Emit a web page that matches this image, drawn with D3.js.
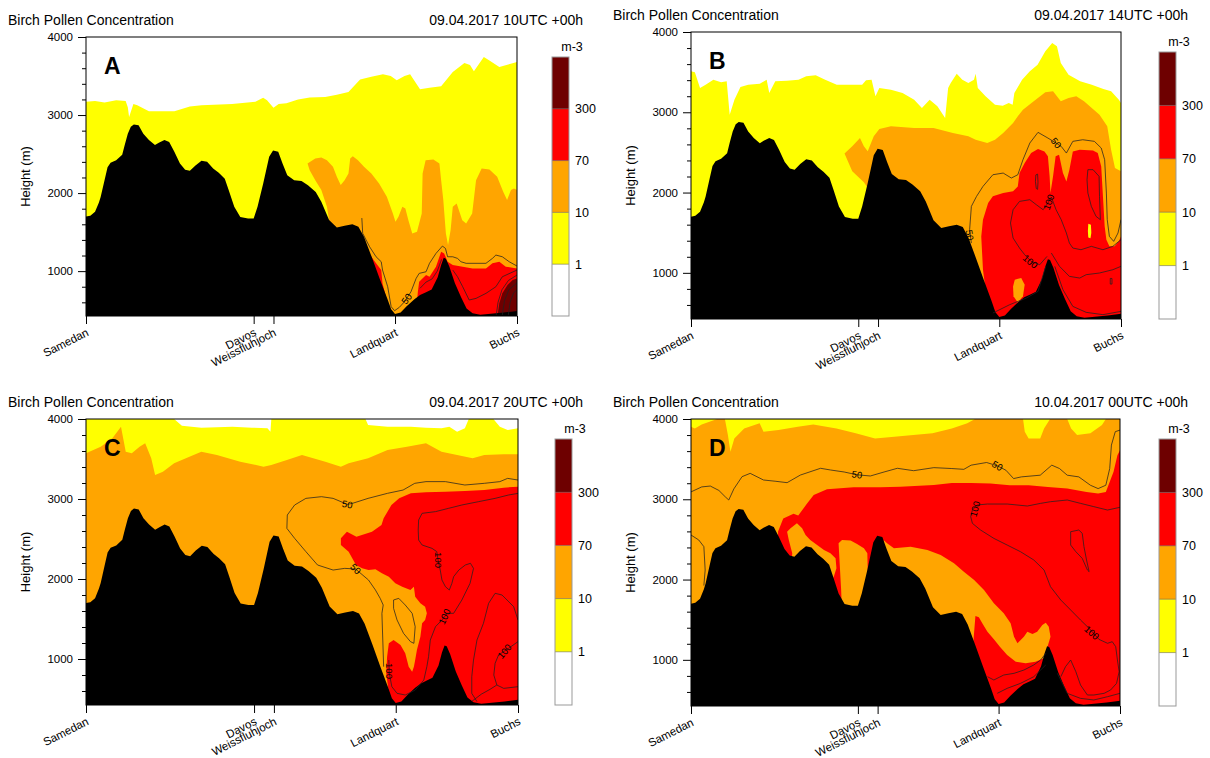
<!DOCTYPE html>
<html><head><meta charset="utf-8">
<script src="https://cdn.jsdelivr.net/npm/d3@7"></script>
<style>
body{margin:0;background:#fff}
svg{display:block}
text{font-family:"Liberation Sans",Arial,Helvetica,sans-serif;fill:#000}
</style>
</head><body>
<svg id="chart" width="1210" height="758"></svg>
<script>
// ---------- shared data ----------
const titleText = "Birch Pollen Concentration";
const panelLetters = ["A","B","C","D"];
const panelTimes = ["09.04.2017 10UTC +00h","09.04.2017 14UTC +00h","09.04.2017 20UTC +00h","10.04.2017 00UTC +00h"];
const stations = ["Samedan","Davos","Weissfluhjoch","Landquart","Buchs"];
const stationDist = [0, 38.9, 43.5, 71.7, 100];
const yTicks = [1000, 2000, 3000, 4000];
const yMinorStep = 200;
const heightDomain = [425, 4000];
const levelLabels = ["1","10","70","300"];
const levelColors = ["#ffffff","#ffff00","#ffa500","#ff0000","#6e0000"];
const unitLabel = "m-3";

// terrain profile [distance %, height m]
const terrain = [[0,1700],[1.0,1710],[2.1,1760],[3.0,1880],[3.4,1950],[4.3,2165],[5.0,2330],[5.7,2390],[7.0,2420],[8.4,2490],[9.0,2620],[9.7,2760],[10.4,2850],[11.1,2880],[12.2,2870],[13.3,2760],[14.6,2680],[16.0,2615],[16.9,2645],[18.2,2680],[19.3,2655],[20.5,2530],[21.8,2380],[23.0,2300],[24.1,2285],[25.4,2355],[26.8,2415],[28.1,2400],[29.5,2315],[30.8,2260],[32.2,2185],[33.1,2040],[34.4,1825],[35.8,1695],[37.6,1675],[38.9,1675],[39.8,1825],[41.1,2120],[42.5,2465],[43.4,2545],[44.6,2530],[45.6,2380],[46.7,2230],[48.3,2165],[50.0,2155],[51.5,2100],[53.3,2015],[54.6,1890],[56.4,1655],[58.2,1560],[60.0,1580],[61.8,1600],[63.2,1570],[64.5,1440],[66.3,1180],[68.1,910],[69.9,650],[70.8,510],[71.7,450],[73.0,470],[74.4,550],[76.2,640],[77.5,695],[78.9,730],[80.2,765],[81.6,920],[82.4,1080],[83.0,1170],[83.5,1160],[84.3,1060],[85.6,845],[87.0,670],[88.3,520],[89.7,460],[91.5,440],[93.3,450],[95.1,460],[96.9,470],[98.7,480],[100,490]];

// ---------- panel A ----------
const aYellowTop = [[0,3170],[2.1,3180],[4.3,3160],[7.0,3190],[9.2,3180],[9.7,3100],[10.0,2976],[11.0,3140],[11.9,3125],[14.6,3050],[20.5,3050],[24.1,3110],[26.8,3125],[33.9,3140],[39.3,3170],[41.1,3220],[42.0,3190],[43.5,3095],[44.7,3140],[46.5,3150],[49.2,3200],[51.9,3225],[55.5,3230],[58.2,3260],[60.9,3296],[62.3,3380],[63.6,3454],[66.2,3490],[68.9,3522],[70.7,3500],[72.1,3445],[73.9,3500],[75.2,3522],[77.5,3330],[79.7,3350],[82.4,3369],[85.1,3552],[87.8,3667],[89.1,3640],[90.0,3561],[92.3,3744],[93.6,3700],[95.9,3616],[100,3680]];
const aOrange = [[51.4,2380],[53.2,2443],[54.6,2456],[55.9,2420],[57.3,2336],[58.2,2208],[59.1,2102],[60.0,2166],[60.9,2251],[61.3,2443],[61.9,2473],[63.1,2422],[64.5,2336],[66.2,2251],[68.0,2123],[69.8,1952],[71.2,1739],[71.8,1632],[72.5,1696],[73.4,1824],[74.1,1803],[74.8,1653],[75.7,1483],[76.8,1504],[77.9,1739],[78.1,2251],[78.8,2422],[80.6,2430],[82.0,2379],[82.4,2166],[82.9,1910],[83.5,1483],[84.0,1334],[84.6,1526],[85.1,1824],[86.0,1867],[87.3,1653],[88.2,1611],[89.6,1739],[90.5,2166],[91.8,2315],[93.6,2302],[95.4,2208],[96.8,2016],[97.7,1910],[98.6,2038],[99.3,2059],[100,2038],[100,425],[56.4,425],[56.4,1653],[55.9,1824],[54.6,2038],[53.2,2166],[51.9,2294]];
const aRedWest = [[66.0,1200],[67.3,1100],[68.5,1014],[68.8,843],[69.6,672],[70.4,523],[71.2,440],[71.2,425],[65,425]];
const aRedEast = [[77.0,736],[77.3,864],[78.9,950],[79.7,928],[81.2,1056],[82.4,1248],[83.1,1227],[83.9,1120],[85.1,1078],[87.4,1056],[89.7,1035],[92.8,1035],[94.3,1100],[95.9,1120],[97.4,1056],[100,1035],[100,425],[76.5,425]];
const aDarkRed = [[95.5,438],[95.9,588],[96.6,716],[97.8,822],[99.0,886],[100,907],[100,425],[95.5,425]];
const a50 = [[64.0,1680],[64.2,1484],[65.8,1312],[67.3,1184],[68.5,1120],[68.8,1014],[70.0,800],[70.8,544],[71.6,493],[72.7,536],[73.9,608],[75.4,736],[76.6,907],[77.3,971],[78.9,992],[79.7,1100],[81.2,1227],[82.7,1321],[83.4,1291],[83.9,1184],[85.1,1184],[86.2,1163],[87.0,1120],[88.2,1100],[92.8,1100],[94.3,1163],[95.1,1206],[96.6,1184],[98.2,1120],[100,1065]];
const a100 = [[85.1,1014],[86.2,928],[87.4,800],[88.9,630],[90.5,651],[92.8,715],[95.1,800],[96.6,928],[100,1014]];
const a100b = [[77.5,780],[78.9,860],[80.3,900],[81.5,1000],[82.5,1150]];
const aInner1 = [[95.2,440],[95.6,600],[96.5,760],[98,880],[100,950]];
const aInner2 = [[96.6,440],[97.1,620],[98.1,760],[100,850]];
const aInner3 = [[98,440],[98.4,600],[99.2,720],[100,760]];
const aLabels = [[74.4,646,-55,"50"]];

// ---------- panel B ----------
const bYellowTop = [[0,3510],[0.9,3498],[2.1,3302],[3.4,3344],[5.2,3406],[7.0,3373],[8.3,3386],[9.0,2970],[10.1,3157],[11.5,3315],[13.3,3344],[16.0,3356],[17.6,3406],[18.2,3240],[19.6,3386],[22.3,3394],[25.0,3406],[26.8,3448],[29.0,3460],[31.2,3406],[33.9,3344],[37.5,3344],[39.8,3344],[40.7,3398],[42.0,3406],[42.9,3199],[43.8,3302],[46.5,3282],[49.2,3240],[51.9,3157],[53.7,3053],[55.5,3157],[57.3,3074],[59.1,2929],[59.8,3302],[60.4,3365],[61.8,3481],[63.1,3406],[64.5,3365],[65.8,3406],[66.2,3481],[66.7,3302],[68.5,3199],[70.7,3095],[72.5,3082],[73.9,3116],[74.8,3095],[75.2,3240],[77.0,3406],[78.8,3510],[80.6,3593],[82.4,3759],[84.0,3863],[85.1,3821],[86.0,3614],[87.8,3469],[90.5,3386],[93.2,3344],[95.9,3290],[97.7,3261],[99.5,3157],[100,3116]];
const bOrange = [[35.7,2485],[37.5,2576],[39.3,2680],[40.2,2576],[41.1,2514],[42.5,2700],[43.8,2792],[46.5,2825],[51.9,2804],[56.4,2804],[60.9,2742],[64.5,2700],[66.2,2659],[68.9,2617],[70.7,2659],[72.6,2741],[74.9,2866],[76.0,2949],[77.2,3032],[79.7,3136],[82.4,3248],[84.2,3261],[86.0,3136],[87.8,3178],[89.6,3199],[91.4,3136],[93.2,3053],[95.0,2970],[96.8,2825],[97.7,2534],[98.6,2306],[100,2264],[100,425],[41.2,425],[41.2,2050],[40.2,2127],[37.5,2264]];
const bRed = [[69.9,425],[69.9,541],[68.7,707],[67.9,1039],[67.5,1454],[67.9,1662],[69.1,1869],[70.2,1953],[72.6,1994],[74.9,2015],[76.0,2077],[76.4,2243],[77.6,2368],[79.1,2492],[80.7,2542],[82.2,2513],[83.0,2451],[83.4,2202],[83.6,1994],[84.2,2202],[84.8,2451],[85.6,2471],[86.5,2243],[87.3,2139],[88.0,2285],[88.8,2513],[90.4,2534],[93.5,2525],[94.6,2492],[95.4,2326],[95.8,1953],[96.2,1579],[96.6,1413],[97.3,1330],[98.5,1330],[99.5,1392],[100,1454],[100,425]];
const bOrangeBlob = [[75.3,915],[76.8,935],[77.6,852],[77.2,707],[76.0,632],[75.0,707],[74.9,831]];
const bYellowBlob = [[92.4,1610],[93.0,1600],[93.1,1500],[92.9,1430],[92.4,1440],[92.3,1520]];
const b50 = [[65.2,1371],[64.8,1537],[65.2,1828],[66.4,1952],[67.9,2077],[70.2,2222],[72.6,2243],[74.5,2181],[76.0,2222],[77.2,2409],[78.8,2617],[80.7,2750],[83.0,2679],[84.9,2617],[86.1,2575],[87.3,2492],[88.8,2638],[91.1,2658],[93.8,2638],[95.4,2555],[96.2,2409],[96.6,1994],[96.8,1662],[97.3,1454],[98.3,1392],[99.3,1496],[100,1662]];
const b100 = [[82.8,1205],[81.1,1101],[79.1,1143],[77.6,1226],[76.4,1309],[74.9,1434],[74.3,1620],[74.9,1786],[76.4,1890],[78.8,1911],[80.3,1849],[81.9,1786],[83.0,1869],[83.8,1944],[84.9,1786],[86.1,1662],[87.3,1496],[88.0,1371],[88.8,1309],[90.7,1288],[93.1,1330],[95.8,1288],[98.1,1330],[100,1413]];
const b100Low = [[83.8,1247],[85.7,1081],[88.0,956],[90.4,935],[91.9,977],[95.0,998],[98.1,1039],[100,1081]];
const bHugWest = [[70.2,499],[74.1,603],[78.0,686],[80.7,769],[82.5,1081]];
const bHugEast = [[84.6,1081],[86.5,790],[88.8,582],[91.9,508],[95.8,479],[100,520]];
const bLoop1 = [[92.3,2285],[93.5,2285],[94.9,2202],[95.0,1953],[95.2,1662],[94.2,1703],[93.1,1828],[92.3,1994],[92.1,2160]];
const bLoop2 = [[80.2,2220],[80.6,2230],[80.7,2130],[80.6,2040],[80.3,2050],[80.1,2140]];
const bLoop3 = [[97.5,930],[97.9,930],[97.9,860],[97.5,860]];
const bLabels = [[64.8,1470,80,"50"],[84.9,2617,50,"50"],[83.2,1880,-70,"100"],[78.9,1140,40,"100"]];

// ---------- panel C ----------
const cYellowTop = [[0,4000],[20.4,4000],[22.2,3917],[26.7,3892],[33.9,3904],[38.4,3892],[42.0,3883],[42.7,3842],[42.9,4000],[64.7,4000],[65.3,3925],[69.8,3904],[75.2,3904],[78.7,3892],[82.3,3883],[84.1,3904],[85.9,3842],[87.7,3883],[88.6,4000],[94.3,4000],[95.8,3904],[97.6,3862],[100,3883]];
const cOrangeTop = [[0,3571],[3.4,3654],[6.1,3758],[8.1,3904],[9.2,3592],[10.6,3571],[12.4,3654],[13.7,3696],[15.1,3508],[16.0,3300],[17.8,3342],[20.4,3446],[24.9,3550],[26.7,3592],[30.3,3550],[35.7,3467],[41.1,3404],[42.9,3425],[46.5,3487],[50.0,3550],[55.4,3467],[59.0,3404],[60.8,3446],[65.3,3508],[69.8,3612],[74.3,3654],[78.7,3696],[82.3,3592],[85.9,3550],[89.5,3508],[92.2,3550],[96.7,3558],[100,3558]];
const cRed = [[59.0,2508],[60.4,2592],[62.6,2529],[66.2,2592],[68.4,2675],[68.9,2758],[70.7,2925],[72.5,3008],[75.2,3071],[78.7,3083],[83.2,3092],[87.7,3100],[92.2,3112],[96.7,3142],[100,3154],[100,425],[71.2,425],[71.2,446],[70.1,571],[69.5,821],[69.7,1029],[70.1,1196],[71.2,1237],[72.8,1175],[73.9,1071],[74.7,904],[75.5,842],[75.9,904],[76.2,987],[76.6,1112],[77.4,1279],[77.8,1446],[78.5,1488],[78.9,1571],[78.5,1654],[77.4,1696],[76.2,1779],[75.9,1904],[75.1,1862],[73.2,1904],[71.6,1946],[70.1,2029],[68.5,2071],[67.0,2121],[65.4,2112],[63.9,2133],[62.5,2175],[60.8,2342],[59.0,2425]];
const c50 = [[100,3237],[97.6,3258],[95.8,3217],[92.2,3196],[87.7,3175],[83.2,3217],[78.7,3217],[76.1,3196],[73.4,3112],[69.8,3071],[65.3,3008],[61.7,2946],[60.5,2933],[57.2,3008],[54.5,3029],[50.9,3008],[48.3,2925],[46.6,2800],[46.5,2633],[48.3,2508],[50.9,2342],[53.6,2175],[57.2,2112],[59.9,2133],[62.4,2125],[65.4,1987],[67.0,1862],[68.1,1758],[68.8,1675],[68.5,1571],[68.7,1237],[68.9,904]];
const c50Loop = [[71.2,1738],[72.4,1758],[73.9,1675],[75.5,1571],[76.2,1404],[75.9,1196],[75.1,1217],[73.5,1321],[72.0,1488],[71.2,1633]];
const c100 = [[100,3070],[97.8,3050],[94.7,3008],[90.9,2967],[87.0,2925],[83.9,2883],[80.9,2842],[77.8,2821],[77.0,2737],[76.9,2612],[77.0,2487],[77.8,2425],[80.1,2383],[81.2,2342],[81.5,2237],[82.0,2112],[82.4,1987],[83.2,1904],[84.1,1862],[84.7,1946],[85.1,2029],[86.3,2112],[87.8,2175],[89.0,2196],[89.7,2133],[88.9,1946],[87.0,1737],[85.1,1571],[83.6,1571],[82.4,1487],[80.9,1404],[79.7,1237],[79.3,1029],[78.9,904],[78.2,737],[76.2,612],[73.9,550],[72.0,571],[70.8,654],[70.2,821],[70.1,987]];
const c100East = [[90.5,467],[89.3,571],[89.3,779],[89.7,987],[90.5,1237],[92.0,1446],[93.2,1696],[94.7,1821],[96.3,1800],[99.0,1654],[100,1487]];
const c100Inner = [[100,1217],[97.8,1133],[95.5,1050],[94.7,946],[94.4,800],[95.1,675],[96.7,633],[100,654]];
const c100Low = [[89.3,470],[91.5,560],[93.5,620],[95.1,675]];
const cLabels = [[60.5,2933,10,"50"],[62.4,2125,45,"50"],[81.5,2237,90,"100"],[83.0,1530,-65,"100"],[70.3,850,90,"100"],[96.9,1095,-50,"100"]];

// ---------- panel D ----------
const dYellowTop = [[0,4000],[100,4000]];
const dOrangeTop = [[0,3904],[0.9,3883],[2.5,3933],[6.1,4000],[7.9,4000],[8.6,3800],[9.2,3592],[10.1,3758],[12.4,3883],[16.0,3946],[16.9,3842],[20.4,3862],[24.9,3904],[28.5,3933],[33.9,3883],[38.4,3821],[42.9,3758],[47.4,3779],[51.8,3800],[56.3,3821],[60.8,3883],[64.4,3946],[66.2,4000],[77.4,4000],[77.8,3842],[78.7,3758],[81.4,3758],[82.3,3883],[83.7,4000],[87.7,4000],[88.6,3883],[90.0,3800],[93.1,3821],[95.8,3925],[96.7,4000],[100,4000]];
const dRed = [[20.3,2600],[21.5,2760],[23.9,2819],[25.0,2798],[27.1,2950],[28.6,3053],[31.7,3124],[37.9,3149],[44.1,3149],[48.8,3157],[56.6,3178],[60.8,3204],[65.3,3204],[69.8,3196],[74.3,3175],[78.7,3175],[83.2,3154],[87.7,3133],[92.2,3092],[94.9,3071],[96.7,3092],[98.5,3342],[99.4,3550],[100,3612],[100,425],[20,425]];
const dOrangeWest = [[22.4,2597],[23.2,2639],[24.7,2701],[25.9,2639],[26.7,2556],[27.8,2493],[29.4,2431],[31.0,2369],[32.5,2327],[33.7,2265],[33.9,2140],[33.3,2037],[31.0,1787],[23.2,2037],[23.6,2327],[22.8,2493]];
const dOrangeDavos = [[34.4,2452],[35.2,2493],[37.2,2485],[38.7,2443],[40.3,2389],[41.1,2327],[41.2,2120],[40.9,1912],[38.7,1538],[35.2,1580],[35.0,1870],[34.7,2161]];
const dOrangeEast = [[44.9,2493],[45.7,2451],[47.3,2389],[51.2,2410],[55.1,2368],[58.2,2306],[61.3,2202],[63.6,2098],[66.0,1994],[68.3,1870],[70.6,1704],[72.9,1579],[74.5,1455],[75.3,1289],[76.1,1206],[77.6,1289],[78.4,1351],[79.6,1322],[80.7,1351],[81.9,1434],[82.7,1463],[83.4,1413],[83.8,1289],[82.3,1019],[80.3,977],[78.0,956],[75.7,977],[73.7,1060],[72.0,1164],[70.6,1255],[69.1,1351],[67.9,1455],[67.1,1529],[66.3,1546],[65.6,1081],[60,1000],[50,1500],[45,2000]];
const d50 = [[0,3092],[2.5,3154],[4.5,3165],[6.5,3110],[8.0,3030],[8.8,2991],[10.0,3130],[11.9,3282],[13.8,3323],[16.9,3240],[19.6,3225],[22.4,3207],[25.5,3302],[30.2,3386],[32.5,3365],[35.7,3340],[38.7,3305],[41.8,3290],[45.0,3340],[48.1,3386],[51.9,3356],[56.6,3394],[60.8,3383],[63.6,3373],[65.3,3425],[68.9,3458],[71.4,3417],[73.4,3362],[75.2,3258],[77.0,3279],[81.4,3300],[84.1,3425],[85.9,3383],[87.7,3300],[90.4,3279],[93.1,3175],[94.9,3133],[96.7,3175],[97.6,3383],[98.0,3675],[98.9,3842],[100,3862]];
const d50West = [[0,2555],[1.8,2493],[3.0,2410],[3.3,2119],[3.0,1925]];
const d100 = [[100,2900],[97.1,2866],[93.9,2908],[90.8,2949],[87.7,2991],[83.8,2970],[81.5,2949],[78.4,2916],[73.7,2941],[69.1,2941],[66.7,2929],[65.6,2866],[65.2,2783],[65.6,2700],[67.5,2617],[70.6,2513],[73.7,2430],[76.8,2347],[79.9,2244],[82.3,2119],[83.8,1911],[86.2,1745],[88.5,1621],[90.8,1496],[92.8,1392],[95.1,1255],[97.1,1206],[98.2,1226],[99.0,1164],[99.4,998],[99.8,853],[99.2,707],[97.8,624],[96.3,583],[93.9,562],[92.4,562],[90.8,686],[89.7,853],[88.5,998],[87.3,915],[86.2,790]];
const dHug1 = [[69.1,790],[70.6,749],[72.9,811],[75.3,832],[77.6,873],[79.9,936],[81.5,998],[82.7,1081]];
const dHug2 = [[71.4,583],[73.7,645],[76.8,707],[79.9,790],[82.7,936]];
const dHug3 = [[85.4,832],[87.7,583],[90.8,520],[93.9,500],[97.1,541],[100,583]];
const dLoop = [[88.5,2596],[90.4,2617],[91.2,2576],[91.6,2410],[92.2,2244],[92.8,2098],[92.4,2119],[91.2,2264],[89.7,2347],[88.5,2430]];
const dLabels = [[38.7,3305,8,"50"],[71.4,3417,30,"50"],[66.2,2880,-75,"100"],[93.4,1338,42,"100"]];

// ---------- panel assembly (layout only) ----------
const panels = [
  {left:86, top:37, width:431, height:279, cbX:552,
   layers:[{lvl:1, top:aYellowTop},{lvl:2, polys:[aOrange]},{lvl:3, polys:[aRedWest,aRedEast]},{lvl:4, polys:[aDarkRed]}],
   lines:[a50,a100,a100b,aInner1,aInner2,aInner3], loops:[], labels:aLabels},
  {left:691, top:32, width:430, height:287, cbX:1159,
   layers:[{lvl:1, top:bYellowTop},{lvl:2, polys:[bOrange]},{lvl:3, polys:[bRed]},{lvl:2, polys:[bOrangeBlob]},{lvl:1, polys:[bYellowBlob]}],
   lines:[b50,b100,b100Low,bHugWest,bHugEast], loops:[bLoop1,bLoop2,bLoop3], labels:bLabels},
  {left:86, top:419, width:432, height:286, cbX:555,
   layers:[{lvl:1, top:cYellowTop},{lvl:2, top:cOrangeTop},{lvl:3, polys:[cRed]}],
   lines:[c50,c100,c100East,c100Inner,c100Low], loops:[c50Loop], labels:cLabels},
  {left:691, top:419, width:429, height:287, cbX:1159,
   layers:[{lvl:1, top:dYellowTop},{lvl:2, top:dOrangeTop},{lvl:3, polys:[dRed]},{lvl:2, polys:[dOrangeWest,dOrangeDavos,dOrangeEast]}],
   lines:[d50,d50West,d100,dHug1,dHug2,dHug3], loops:[dLoop], labels:dLabels}
];

const svg = d3.select("#chart");
const defs = svg.append("defs");
const FONT = '"Liberation Sans",Arial,Helvetica,sans-serif';

panels.forEach((p, i) => {
  const x = d3.scaleLinear().domain([0,100]).range([0,p.width]);
  const y = d3.scaleLinear().domain(heightDomain).range([p.height,0]);
  const g = svg.append("g").attr("transform", `translate(${p.left},${p.top})`);
  const clipId = "clip" + i;
  defs.append("clipPath").attr("id", clipId).append("rect").attr("width", p.width).attr("height", p.height);
  const plot = g.append("g").attr("clip-path", `url(#${clipId})`);
  const line = d3.line().x(d => x(d[0])).y(d => y(d[1]));
  const area = d3.area().x(d => x(d[0])).y0(p.height).y1(d => y(d[1]));

  plot.append("rect").attr("width", p.width).attr("height", p.height).attr("fill", levelColors[0]);
  p.layers.forEach(L => {
    if (L.top) plot.append("path").attr("d", area(L.top)).attr("fill", levelColors[L.lvl]);
    (L.polys || []).forEach(poly => plot.append("path").attr("d", line(poly) + "Z").attr("fill", levelColors[L.lvl]));
  });
  // terrain
  plot.append("path").attr("d", area(terrain)).attr("fill", "#000");
  // contour lines
  p.lines.forEach(c => plot.append("path").attr("d", line(c)).attr("fill","none")
      .attr("stroke","#222").attr("stroke-width",0.75).attr("stroke-linejoin","round"));
  p.loops.forEach(c => plot.append("path").attr("d", line(c) + "Z").attr("fill","none")
      .attr("stroke","#222").attr("stroke-width",0.75).attr("stroke-linejoin","round"));
  p.labels.forEach(l => plot.append("text")
      .attr("transform", `translate(${x(l[0])},${y(l[1])}) rotate(${l[2]})`)
      .attr("text-anchor","middle").attr("dy","0.35em")
      .style("font-size","9.5px").text(l[3]));

  // frame
  g.append("rect").attr("width", p.width).attr("height", p.height)
    .attr("fill","none").attr("stroke","#000").attr("stroke-width",1);

  // y axis
  const yAx = g.append("g").call(d3.axisLeft(y).tickValues(yTicks).tickSize(8).tickPadding(5).tickFormat(d3.format("d")));
  yAx.select(".domain").remove();
  yAx.selectAll("text").style("font-size","11.5px").style("font-family",FONT);
  const minor = d3.range(600, heightDomain[1], yMinorStep).filter(v => v % 1000 !== 0);
  const yMin = g.append("g").call(d3.axisLeft(y).tickValues(minor).tickSize(4).tickFormat(""));
  yMin.select(".domain").remove();

  // x axis
  const xAx = g.append("g").attr("transform", `translate(0,${p.height})`)
    .call(d3.axisBottom(x).tickValues(stationDist).tickSize(8).tickFormat((d, k) => stations[k]));
  xAx.select(".domain").remove();
  xAx.selectAll("text")
    .attr("y", null).attr("dy", null)
    .attr("transform", "translate(3,19) rotate(-27)")
    .attr("text-anchor", "end")
    .style("font-size","11.5px").style("font-family",FONT);

  // axis title
  g.append("text").attr("transform", `translate(-61,${p.height/2}) rotate(-90)`)
    .attr("text-anchor","middle").attr("dy","0.35em").style("font-size","13px").text("Height (m)");

  // titles
  g.append("text").attr("x", -78).attr("y", -12).style("font-size","14px").text(titleText);
  g.append("text").attr("x", 497).attr("y", -12).attr("text-anchor","end").style("font-size","14px").text(panelTimes[i]);

  // panel letter
  g.append("text").attr("x", 18).attr("y", 37).style("font-size","23px").style("font-weight","bold").text(panelLetters[i]);

  // colorbar
  const cbTop = 20, cbH = p.height - 20, cbW = 17, cbx = p.cbX - p.left;
  const cbScale = d3.scaleBand().domain(d3.range(levelColors.length)).range([cbH + cbTop, cbTop]);
  const cb = g.append("g");
  levelColors.forEach((c, k) => {
    cb.append("rect").attr("x", cbx).attr("y", cbScale(k)).attr("width", cbW).attr("height", cbScale.bandwidth()).attr("fill", c);
  });
  levelLabels.forEach((t, k) => {
    const yy = cbScale(k);
    cb.append("line").attr("x1", cbx).attr("x2", cbx + cbW).attr("y1", yy).attr("y2", yy)
      .attr("stroke", "#555").attr("stroke-opacity", 0.5);
    cb.append("text").attr("x", cbx + 23).attr("y", yy).attr("dy","0.35em").style("font-size","12.5px").text(t);
  });
  cb.append("rect").attr("x", cbx).attr("y", cbTop).attr("width", cbW).attr("height", cbH)
    .attr("fill","none").attr("stroke","#999").attr("stroke-width",1);
  cb.append("text").attr("x", cbx + 20).attr("y", 14).attr("text-anchor","middle").style("font-size","12.5px").text(unitLabel);
});
</script>
</body></html>
